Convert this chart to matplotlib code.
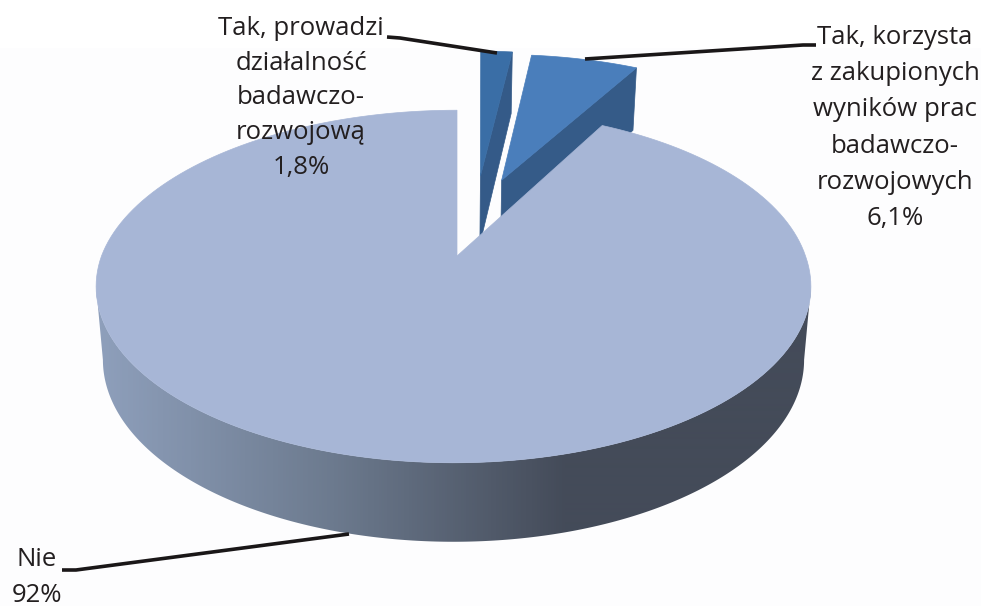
import matplotlib
matplotlib.use("Agg")
import matplotlib.pyplot as plt
from matplotlib.colors import LinearSegmentedColormap
from matplotlib.patches import Polygon
import numpy as np

# clockwise from 12 o'clock
names = ["Tak, prowadzi\ndziałalność\nbadawczo-\nrozwojową", "Tak, korzysta\nz zakupionych\nwyników prac\nbadawczo-\nrozwojowych", "Nie"]
shares = [1.8, 6.1, 92]
share_labels = ["1,8%", "6,1%", "92%"]

face_colors = ["#3a6ea6", "#4a7ebb", "#a7b6d6"]
cut_colors = ["#345a88", "#355b88", "#6c7a8e"]
offsets = [(0.085, 0.51), (0.153, 0.48), (0.0, 0.0)]
apex_shift = [-4, -5, 0]

# fake perspective of the disc, fitted on the picture
CX, CY = 453.5, 256
A, B, K = 352, 171, 0.173


def project(X, Y, z=0.0):
    X = np.asarray(X, dtype=float)
    Y = np.asarray(Y, dtype=float)
    w = 1 + K * Y
    x = CX + 3.5 * (1 - np.minimum(np.hypot(X, Y), 1)) + 3.5 * np.clip(Y, 0, 1) + A * X / w
    y = CY - B * Y / w
    x = x - (x - CX) * 0.019 * z
    y = y + z * (72 - 7 * Y)
    return x, y


def sector_xy(t0, t1, off, dx=0):
    t = np.linspace(t0, t1, 200)
    X = np.r_[off[0], off[0] + np.sin(t)]
    Y = np.r_[off[1], off[1] + np.cos(t)]
    x, y = project(X, Y)
    x[0] += dx
    return np.column_stack([x, y])


def edge_wall(t, off, dx=0):
    X = np.array([off[0], off[0] + np.sin(t)])
    Y = np.array([off[1], off[1] + np.cos(t)])
    x0, y0 = project(X, Y, 0)
    x1, y1 = project(X, Y, 1)
    x0[0] += dx
    x1[0] += dx
    return np.column_stack([np.r_[x0, x1[::-1]], np.r_[y0, y1[::-1]]])


fig = plt.figure(figsize=(9.81, 6.06), dpi=100)
ax = fig.add_axes([0, 0, 1, 1])
ax.axis("off")
ax.axhspan(48, 606, color="#fdfdfe", lw=0, zorder=0)

fracs = np.array(shares) / np.sum(shares)
edges = np.r_[0, np.cumsum(fracs)] * 2 * np.pi

# small slices first, the big one covers the bottom of them
for i in range(2):
    t0, t1 = edges[i], edges[i + 1]
    ax.fill(*edge_wall(t1, offsets[i], apex_shift[i]).T, color=cut_colors[i], lw=0.5, zorder=2 + i)
    ax.fill(*sector_xy(t0, t1, offsets[i], apex_shift[i]).T, color=face_colors[i], lw=0.5, zorder=2 + i)

# outer wall of the big slice, gradient clipped to the front half of the rim
wall_cmap = LinearSegmentedColormap.from_list("wall", ["#8e9fbb", "#6c7a8e", "#444b59", "#444b59"])
ts = np.radians(np.linspace(100, 260, 300))
xt, yt = project(np.sin(ts), np.cos(ts), 0)
xb, yb = project(np.sin(ts), np.cos(ts), 1)
rim = Polygon(np.column_stack([np.r_[xt, xb[::-1]], np.r_[yt, yb[::-1]]]), transform=ax.transData, fc="none", ec="none")
ax.add_patch(rim)
grad = np.linspace(0, 1, 700).reshape(1, -1)
im = ax.imshow(grad, cmap=wall_cmap, extent=(100, 800, 606, 0), aspect="auto", zorder=5, interpolation="bilinear")
im.set_clip_path(rim)
# the two ends of the gradient run past the extent
ax.imshow(grad[:, :1], cmap=wall_cmap, vmin=0, vmax=1, extent=(90, 100, 606, 0), aspect="auto", zorder=5).set_clip_path(rim)
ax.imshow(grad[:, -1:], cmap=wall_cmap, vmin=0, vmax=1, extent=(800, 820, 606, 0), aspect="auto", zorder=5).set_clip_path(rim)
ax.fill(*sector_xy(edges[2], edges[3], offsets[2]).T, color=face_colors[2], lw=0.5, zorder=6)

ax.set_xlim(0, 981)
ax.set_ylim(606, 0)

# leader lines
line_kw = dict(color="#1a1718", lw=2.6, zorder=8, solid_capstyle="butt", solid_joinstyle="round")
ax.plot([387, 400, 497], [37, 38, 53], **line_kw)
ax.plot([585, 803, 816], [59, 45, 45], **line_kw)
ax.plot([62, 76, 349], [570, 570, 534], **line_kw)

text_kw = dict(family="Open Sans", fontsize=18.5, color="#231f20", ha="center", va="center", zorder=9)
ax.text(301, 98, names[0] + "\n" + share_labels[0], linespacing=1.51, **text_kw)
ax.text(895, 128, names[1] + "\n" + share_labels[1], linespacing=1.58, **text_kw)
ax.text(37, 560, names[2], **text_kw)
ax.text(37, 595, share_labels[2], **text_kw)

fig.savefig("out.png", dpi=100)
